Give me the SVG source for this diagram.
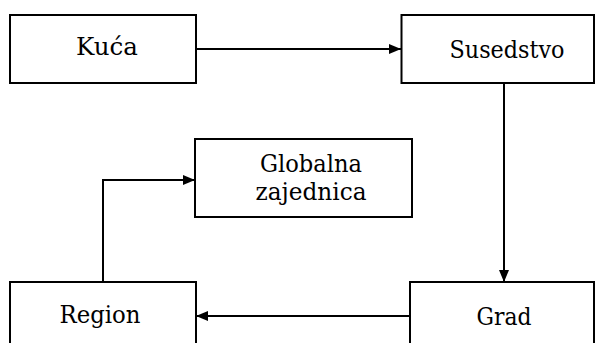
<svg xmlns="http://www.w3.org/2000/svg" width="595" height="343" viewBox="0 0 595 343">
<style>
.box{fill:#fff;stroke:#000;stroke-width:2}
.lbl{font-family:"DejaVu Serif","Liberation Serif",serif;font-size:24px;fill:#000;text-anchor:middle}
.con{fill:none;stroke:#000;stroke-width:2}
</style>
<defs>
<marker id="ah" viewBox="0 0 12 12" refX="12" refY="6" markerWidth="12" markerHeight="12" markerUnits="userSpaceOnUse" orient="auto">
<path d="M0,1 L12,6 L0,11 Z" fill="#000"/>
</marker>
</defs>
<rect width="595" height="343" fill="#fff"/>
<g id="connectors">
<line class="con" x1="196" y1="49" x2="401" y2="49" marker-end="url(#ah)"/>
<line class="con" x1="504" y1="83" x2="504" y2="282" marker-end="url(#ah)"/>
<line class="con" x1="410" y1="316" x2="196" y2="316" marker-end="url(#ah)"/>
<polyline class="con" points="103,282 103,180 195,180" marker-end="url(#ah)"/>
</g>
<g id="kuca">
<rect class="box" x="10" y="15" width="186" height="68"/>
<text class="lbl" x="107" y="55" textLength="62" lengthAdjust="spacingAndGlyphs">Kuća</text>
</g>
<g id="susedstvo">
<rect class="box" x="401.5" y="15" width="192.5" height="68"/>
<text class="lbl" x="507" y="58" textLength="115" lengthAdjust="spacingAndGlyphs">Susedstvo</text>
</g>
<g id="globalna">
<rect class="box" x="195" y="139" width="217" height="78"/>
<text class="lbl" x="311" y="172" textLength="102" lengthAdjust="spacingAndGlyphs">Globalna</text>
<text class="lbl" x="311" y="200" textLength="111" lengthAdjust="spacingAndGlyphs">zajednica</text>
</g>
<g id="region">
<rect class="box" x="10" y="282" width="186" height="70"/>
<text class="lbl" x="100" y="323" textLength="81" lengthAdjust="spacingAndGlyphs">Region</text>
</g>
<g id="grad">
<rect class="box" x="410" y="282" width="184" height="70"/>
<text class="lbl" x="504" y="325" textLength="55" lengthAdjust="spacingAndGlyphs">Grad</text>
</g>
</svg>
